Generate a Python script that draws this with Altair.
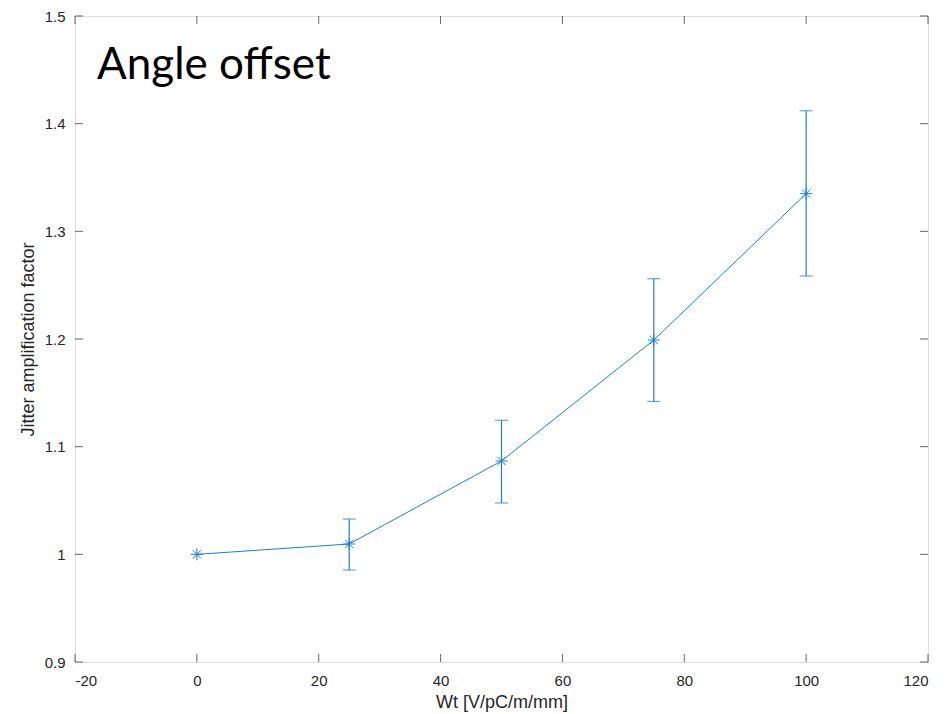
import altair as alt
import pandas as pd

# Data
wt = [0, 25, 50, 75, 100]
jitter = [1.0, 1.0096, 1.0867, 1.199, 1.335]
err_wt = [25, 50, 75, 100]
err_lo = [0.9854, 1.0477, 1.142, 1.2585]
err_hi = [1.0328, 1.1245, 1.256, 1.412]
x_ticks = [-20, 0, 20, 40, 60, 80, 100, 120]
y_ticks = [0.9, 1.0, 1.1, 1.2, 1.3, 1.4, 1.5]
title_text = ["Angle offset"]

W, H = 853, 646
BLUE = "#1f7fc9"
FRAME = "#555555"
TICK = "#262626"
FONT = "Liberation Sans"

df = pd.DataFrame({"wt": wt, "j": jitter})
dfe = pd.DataFrame({"wt": err_wt, "lo": err_lo, "hi": err_hi})
dft = pd.DataFrame({"t": title_text})
dfx = pd.DataFrame({"v": x_ticks})
dfy = pd.DataFrame({"v": y_ticks})

xs = alt.Scale(domain=[x_ticks[0], x_ticks[-1]], nice=False, zero=False)
ys = alt.Scale(domain=[y_ticks[0], y_ticks[-1]], nice=False, zero=False)

main_x = alt.Axis(values=x_ticks, title="Wt [V/pC/m/mm]", ticks=False, grid=False,
                  domain=False, labelPadding=11, labelFont=FONT, labelFontSize=15,
                  labelExpr="'' + datum.value",
                  labelColor=TICK, titleFont=FONT, titleFontSize=18, titleFontWeight="normal",
                  titleColor=TICK, titlePadding=5)
main_y = alt.Axis(values=y_ticks, title="Jitter amplification factor", ticks=False, grid=False,
                  domain=False, labelPadding=10, labelFont=FONT, labelFontSize=15,
                  labelColor=TICK,
                  labelExpr="datum.value == 1 ? '1' : format(datum.value, '.1f')",
                  titleFont=FONT, titleFontSize=18, titleFontWeight="normal",
                  titleColor=TICK, titlePadding=7)

line = alt.Chart(df).mark_line(color=BLUE, strokeWidth=1).encode(
    x=alt.X("wt:Q", scale=xs, axis=main_x),
    y=alt.Y("j:Q", scale=ys, axis=main_y),
)

asterisk = "M-1,0L1,0M0,-1L0,1M-0.7,-0.7L0.7,0.7M-0.7,0.7L0.7,-0.7"
pts = alt.Chart(df).mark_point(shape=asterisk, size=144, filled=False, color=BLUE,
                               strokeWidth=1, opacity=1).encode(
    x=alt.X("wt:Q", scale=xs),
    y=alt.Y("j:Q", scale=ys),
)

bars = alt.Chart(dfe).mark_rule(color=BLUE, strokeWidth=1.2).encode(
    x=alt.X("wt:Q", scale=xs),
    y=alt.Y("lo:Q", scale=ys),
    y2="hi:Q",
)
cap_lo = alt.Chart(dfe).mark_tick(orient="horizontal", size=13, thickness=1.2, color=BLUE).encode(
    x=alt.X("wt:Q", scale=xs),
    y=alt.Y("lo:Q", scale=ys),
)
cap_hi = alt.Chart(dfe).mark_tick(orient="horizontal", size=13, thickness=1.2, color=BLUE).encode(
    x=alt.X("wt:Q", scale=xs),
    y=alt.Y("hi:Q", scale=ys),
)

# inside tick marks on all four sides
tb = alt.Chart(dfx).mark_tick(orient="vertical", size=8, thickness=1, color=TICK, yOffset=-4).encode(
    x=alt.X("v:Q", scale=xs), y=alt.datum(y_ticks[0], scale=ys))
tt = alt.Chart(dfx).mark_tick(orient="vertical", size=8, thickness=1, color=TICK, yOffset=4).encode(
    x=alt.X("v:Q", scale=xs), y=alt.datum(y_ticks[-1], scale=ys))
tl = alt.Chart(dfy).mark_tick(orient="horizontal", size=8, thickness=1, color=TICK, xOffset=4).encode(
    y=alt.Y("v:Q", scale=ys), x=alt.datum(x_ticks[0], scale=xs))
tr = alt.Chart(dfy).mark_tick(orient="horizontal", size=8, thickness=1, color=TICK, xOffset=-4).encode(
    y=alt.Y("v:Q", scale=ys), x=alt.datum(x_ticks[-1], scale=xs))

label = alt.Chart(dft).mark_text(font="Lato", fontSize=44, align="left", baseline="alphabetic",
                                 color="black").encode(
    text="t:N", x=alt.value(22), y=alt.value(63)
)

chart = alt.layer(line, bars, cap_lo, cap_hi, pts, tb, tt, tl, tr, label).properties(
    width=W, height=H,
    autosize=alt.AutoSizeParams(type="none"),
    padding={"left": 75, "top": 16, "right": 17, "bottom": 52},
).configure_view(stroke=FRAME, strokeWidth=1).configure(background="white")

chart.save("out.html", embed_options={"renderer": "svg", "actions": False})
